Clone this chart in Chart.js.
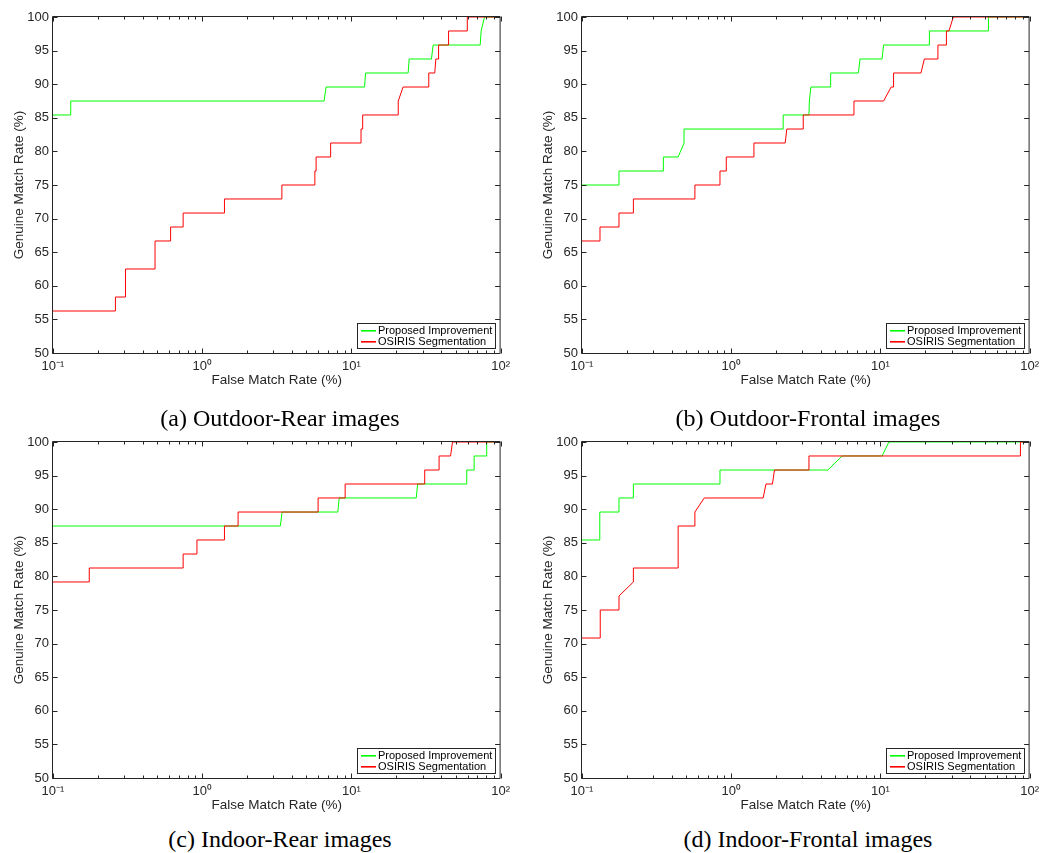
<!DOCTYPE html>
<html>
<head>
<meta charset="utf-8">
<script src="https://cdn.jsdelivr.net/npm/chart.js@4.4.0/dist/chart.umd.min.js"></script>
<style>
  body { margin: 0; background: #fff; }
  #page { position: relative; width: 1045px; height: 853px; overflow: hidden; background: #fff; }
  canvas { position: absolute; }
  .cap { position: absolute; width: 520px; text-align: center; font-family: "Liberation Serif", serif;
         font-size: 24px; line-height: 24px; color: #000; white-space: nowrap; }
</style>
</head>
<body>
<div id="page">
  <canvas id="chartA" width="516" height="400" style="left:0;top:0"></canvas>
  <canvas id="chartB" width="516" height="400" style="left:529px;top:0"></canvas>
  <canvas id="chartC" width="516" height="400" style="left:0;top:425px"></canvas>
  <canvas id="chartD" width="516" height="400" style="left:529px;top:425px"></canvas>
  <div class="cap" style="left:20px;top:406px">(a) Outdoor-Rear images</div>
  <div class="cap" style="left:548px;top:406px">(b) Outdoor-Frontal images</div>
  <div class="cap" style="left:20px;top:827px">(c) Indoor-Rear images</div>
  <div class="cap" style="left:548px;top:827px">(d) Indoor-Frontal images</div>
</div>
<script>
const seriesNames = ["Proposed Improvement", "OSIRIS Segmentation"];
const seriesColors = ["#00ff00", "#ff0000"];
const xTickValues = [0.1, 1, 10, 100];
const xTickLabels = ["10\u207B\u00B9", "10\u2070", "10\u00B9", "10\u00B2"];
const yTickValues = [50, 55, 60, 65, 70, 75, 80, 85, 90, 95, 100];

// (a) Outdoor-Rear
const aGreenX = [0.1, 0.1315, 0.1315, 6.56, 6.76, 12.25, 12.44, 24.0, 24.4, 34.4, 35.3, 73.0, 74.0, 75.0, 78.0, 100];
const aGreenY = [85.42, 85.42, 87.5, 87.5, 89.58, 89.58, 91.67, 91.67, 93.75, 93.75, 95.83, 95.83, 97.92, 97.92, 100, 100];
const aRedX = [0.1, 0.262, 0.262, 0.306, 0.306, 0.483, 0.483, 0.614, 0.614, 0.745, 0.745, 1.41, 1.41, 3.42, 3.42,
  5.69, 5.69, 5.80, 5.80, 7.26, 7.26, 11.6, 11.6, 11.9, 11.9, 20.6, 20.6, 22.2, 33.0, 33.0, 36.2, 36.8, 38.4, 38.4,
  44.8, 44.8, 59.8, 59.8, 100];
const aRedY = [56.25, 56.25, 58.33, 58.33, 62.5, 62.5, 66.67, 66.67, 68.75, 68.75, 70.83, 70.83, 72.92, 72.92, 75,
  75, 77.08, 77.08, 79.17, 79.17, 81.25, 81.25, 83.33, 83.33, 85.42, 85.42, 87.5, 89.58, 89.58, 91.67, 91.67, 93.75, 93.75, 95.83,
  95.83, 97.92, 97.92, 100, 100];

// (b) Outdoor-Frontal
const bGreenX = [0.1, 0.177, 0.177, 0.351, 0.351, 0.441, 0.483, 0.483, 2.23, 2.23, 3.32, 3.34, 3.42, 4.64, 4.64,
  7.12, 7.3, 10.26, 10.5, 21.3, 21.3, 53.0, 53.0, 100];
const bGreenY = [75, 75, 77.08, 77.08, 79.17, 79.17, 81.25, 83.33, 83.33, 85.42, 85.42, 87.5, 89.58, 89.58, 91.67,
  91.67, 93.75, 93.75, 95.83, 95.83, 97.92, 97.92, 100, 100];
const bRedX = [0.1, 0.132, 0.132, 0.177, 0.177, 0.221, 0.221, 0.571, 0.571, 0.841, 0.841, 0.927, 0.927, 1.42, 1.42,
  2.30, 2.36, 3.04, 3.04, 6.65, 6.65, 10.5, 11.8, 12.25, 12.25, 18.7, 19.7, 24.3, 24.3, 27.7, 27.7, 28.8, 30.8, 100];
const bRedY = [66.67, 66.67, 68.75, 68.75, 70.83, 70.83, 72.92, 72.92, 75, 75, 77.08, 77.08, 79.17, 79.17, 81.25,
  81.25, 83.33, 83.33, 85.42, 85.42, 87.5, 87.5, 89.58, 89.58, 91.67, 91.67, 93.75, 93.75, 95.83, 95.83, 97.92, 97.92, 100, 100];

// (c) Indoor-Rear
const cGreenX = [0.1, 3.34, 3.43, 8.11, 8.28, 27.2, 27.8, 59.3, 59.3, 66.5, 66.5, 80.7, 80.7, 100];
const cGreenY = [87.5, 87.5, 89.58, 89.58, 91.67, 91.67, 93.75, 93.75, 95.83, 95.83, 97.92, 97.92, 100, 100];
const cRedX = [0.1, 0.175, 0.175, 0.745, 0.745, 0.922, 0.922, 1.41, 1.41, 1.74, 1.74, 5.98, 5.98, 9.08, 9.08,
  31.0, 31.0, 38.7, 38.7, 46.2, 47.6, 100];
const cRedY = [79.17, 79.17, 81.25, 81.25, 83.33, 83.33, 85.42, 85.42, 87.5, 87.5, 89.58, 89.58, 91.67, 91.67, 93.75,
  93.75, 95.83, 95.83, 97.92, 97.92, 100, 100];

// (d) Indoor-Frontal
const dGreenX = [0.1, 0.1316, 0.1316, 0.177, 0.177, 0.221, 0.221, 0.841, 0.841, 4.44, 5.54, 10.26, 11.4, 100];
const dGreenY = [85.42, 85.42, 89.58, 89.58, 91.67, 91.67, 93.75, 93.75, 95.83, 95.83, 97.92, 97.92, 100, 100];
const dRedX = [0.1, 0.1325, 0.1325, 0.177, 0.177, 0.221, 0.221, 0.441, 0.441, 0.571, 0.571, 0.660, 1.637, 1.71,
  1.89, 1.95, 3.32, 3.32, 86.8, 86.8, 100];
const dRedY = [70.83, 70.83, 75, 75, 77.08, 79.17, 81.25, 81.25, 87.5, 87.5, 89.58, 91.67, 91.67, 93.75,
  93.75, 95.83, 95.83, 97.92, 97.92, 100, 100];

const axisColor = "#262626";
const sans = "'Liberation Sans', Arial, sans-serif";

function pts(xs, ys) {
  return xs.map((x, i) => ({ x: x, y: ys[i] }));
}

// box, inward ticks and the legend box inside the axes (MATLAB look)
const matlabAxes = {
  id: "matlabAxes",
  afterDatasetsDraw(chart) {
    const ctx = chart.ctx;
    const a = chart.chartArea;
    const xs = chart.scales.x, ys = chart.scales.y;
    const L = a.left - 0.5, R = a.right - 0.5, T = a.top - 0.5, B = a.bottom + 0.5;
    ctx.save();
    ctx.strokeStyle = axisColor;
    ctx.lineWidth = 1;
    ctx.beginPath();
    ctx.rect(L, T, R - L, B - T);
    // y ticks, both sides
    yTickValues.forEach(v => {
      const p = Math.round(ys.getPixelForValue(v)) + 0.5;
      ctx.moveTo(L, p); ctx.lineTo(L + 5, p);
      ctx.moveTo(R, p); ctx.lineTo(R - 5, p);
    });
    // x ticks, major and minor, top and bottom
    xTickValues.forEach((d, k) => {
      const p = Math.round(xs.getPixelForValue(d)) + 0.5;
      ctx.moveTo(p, B); ctx.lineTo(p, B - 5);
      ctx.moveTo(p, T); ctx.lineTo(p, T + 5);
      if (k < xTickValues.length - 1) {
        for (let m = 2; m <= 9; m++) {
          const q = Math.round(xs.getPixelForValue(m * d)) + 0.5;
          ctx.moveTo(q, B); ctx.lineTo(q, B - 3);
          ctx.moveTo(q, T); ctx.lineTo(q, T + 3);
        }
      }
    });
    ctx.stroke();

    // legend
    ctx.font = "11px " + sans;
    const tw = Math.max(...seriesNames.map(s => ctx.measureText(s).width));
    const bw = Math.round(4 + 15 + 2 + tw + 3), bh = 25;
    const bx = Math.round(a.right - 6 - bw), by = Math.round(a.bottom - 5 - bh);
    ctx.fillStyle = "#fff";
    ctx.fillRect(bx, by, bw, bh);
    ctx.strokeStyle = axisColor;
    ctx.strokeRect(bx + 0.5, by + 0.5, bw, bh);
    ctx.textBaseline = "middle";
    seriesNames.forEach((name, i) => {
      const cy = by + 7 + i * 11;
      ctx.fillStyle = seriesColors[i];
      ctx.fillRect(bx + 4, cy, 15, 1.6);
      ctx.fillStyle = "#000";
      ctx.fillText(name, bx + 21, cy + 1);
    });
    ctx.restore();
  }
};

function makeChart(id, gx, gy, rx, ry) {
  return new Chart(document.getElementById(id), {
    type: "line",
    data: {
      datasets: [
        { label: seriesNames[0], data: pts(gx, gy), borderColor: seriesColors[0], borderWidth: 1,
          pointRadius: 0, tension: 0, fill: false, order: 1 },
        { label: seriesNames[1], data: pts(rx, ry), borderColor: seriesColors[1], borderWidth: 1,
          pointRadius: 0, tension: 0, fill: false, order: 0 }
      ]
    },
    options: {
      responsive: false,
      animation: false,
      events: [],
      layout: { padding: { left: 0, top: 17, right: 10, bottom: 0 } },
      scales: {
        x: {
          type: "logarithmic", min: 0.1, max: 100,
          grid: { display: false, drawTicks: false }, border: { display: false },
          afterBuildTicks: s => { s.ticks = xTickValues.map(v => ({ value: v })); },
          afterFit: s => { s.height = 47; },
          ticks: { autoSkip: false, maxRotation: 0, padding: 6, color: axisColor,
                   font: { family: sans, size: 13 }, callback: (v, i) => xTickLabels[i] },
          title: { display: true, text: "False Match Rate (%)", color: axisColor,
                   font: { family: sans, size: 13.5 }, padding: { top: 0, bottom: 12 } }
        },
        y: {
          min: 50, max: 100,
          grid: { display: false, drawTicks: false }, border: { display: false },
          afterBuildTicks: s => { s.ticks = yTickValues.map(v => ({ value: v })); },
          afterFit: s => { s.width = 53; },
          ticks: { padding: 4, color: axisColor, font: { family: sans, size: 13 } },
          title: { display: true, text: "Genuine Match Rate (%)", color: axisColor,
                   font: { family: sans, size: 13.5 }, padding: { top: 11, bottom: 0 } }
        }
      },
      plugins: { legend: { display: false }, tooltip: { enabled: false } }
    },
    plugins: [matlabAxes]
  });
}

makeChart("chartA", aGreenX, aGreenY, aRedX, aRedY);
makeChart("chartB", bGreenX, bGreenY, bRedX, bRedY);
makeChart("chartC", cGreenX, cGreenY, cRedX, cRedY);
makeChart("chartD", dGreenX, dGreenY, dRedX, dRedY);
</script>
</body>
</html>
